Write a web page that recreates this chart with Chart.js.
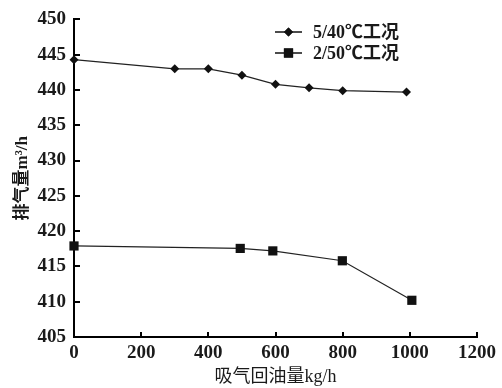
<!DOCTYPE html>
<html>
<head>
<meta charset="utf-8">
<script src="https://cdn.jsdelivr.net/npm/chart.js@4/dist/chart.umd.min.js"></script>
<style>
  html, body { margin: 0; padding: 0; background: #fff; }
  #wrap { width: 502px; height: 388px; }
</style>
</head>
<body>
<div id="wrap"><canvas id="oilChart"></canvas></div>
<script>
// data
const seriesNames = ['5/40℃工况', '2/50℃工况'];
const oilA = [0, 300, 400, 500, 600, 700, 800, 990];
const flowA = [444.3, 443.0, 443.0, 442.1, 440.8, 440.3, 439.9, 439.7];
const oilB = [0, 495, 592, 799, 1006];
const flowB = [417.9, 417.55, 417.2, 415.8, 410.2];
const xTicks = [0, 200, 400, 600, 800, 1000, 1200];
const yTicks = [405, 410, 415, 420, 425, 430, 435, 440, 445, 450];

const serif = "'Liberation Serif', 'Noto Sans CJK SC', serif";

function toPoints(xs, ys) {
  return xs.map((x, i) => ({ x: x, y: ys[i] }));
}

// ticks point inwards, so draw them by hand
const innerTicks = {
  id: 'innerTicks',
  afterDraw(chart) {
    const ctx = chart.ctx;
    const area = chart.chartArea;
    const xs = chart.scales.x;
    const ys = chart.scales.y;
    ctx.save();
    ctx.strokeStyle = '#000';
    ctx.lineWidth = 2;
    ctx.beginPath();
    xTicks.forEach(v => {
      const px = Math.round(xs.getPixelForValue(v));
      ctx.moveTo(px, area.bottom);
      ctx.lineTo(px, area.bottom - 5);
    });
    yTicks.forEach(v => {
      const py = Math.round(ys.getPixelForValue(v));
      ctx.moveTo(area.left, py);
      ctx.lineTo(area.left + 6, py);
    });
    ctx.stroke();
    ctx.restore();
  }
};

// legend sits inside the plot, top right
const insideLegend = {
  id: 'insideLegend',
  afterDraw(chart) {
    const ctx = chart.ctx;
    const styles = [
      { style: 'rectRot', radius: 4.5, y: 32 },
      { style: 'rect', radius: 6.5, y: 53 }
    ];
    ctx.save();
    styles.forEach((s, i) => {
      ctx.strokeStyle = '#111';
      ctx.lineWidth = 1.5;
      ctx.beginPath();
      ctx.moveTo(275, s.y);
      ctx.lineTo(302, s.y);
      ctx.stroke();
      ctx.fillStyle = '#111';
      Chart.helpers.drawPoint(ctx, { pointStyle: s.style, radius: s.radius, borderWidth: 0 }, 288.5, s.y);
      ctx.fill();
      ctx.fillStyle = '#1a1a1a';
      ctx.font = 'bold 18px ' + serif;
      ctx.textBaseline = 'middle';
      ctx.fillText(seriesNames[i], 313, s.y + 1);
    });
    ctx.restore();
  }
};

new Chart(document.getElementById('oilChart'), {
  type: 'scatter',
  data: {
    datasets: [{
      label: seriesNames[0],
      data: toPoints(oilA, flowA),
      showLine: true,
      borderColor: '#222',
      borderWidth: 1.2,
      backgroundColor: '#111',
      pointStyle: 'rectRot',
      pointRadius: 4.5,
      pointBorderWidth: 0,
      clip: false
    }, {
      label: seriesNames[1],
      data: toPoints(oilB, flowB),
      showLine: true,
      borderColor: '#222',
      borderWidth: 1.2,
      backgroundColor: '#111',
      pointStyle: 'rect',
      pointRadius: 6.5,
      pointBorderWidth: 0,
      clip: false
    }]
  },
  options: {
    responsive: true,
    maintainAspectRatio: false,
    animation: false,
    layout: { padding: { top: 17, right: 25, left: 12, bottom: 0 } },
    plugins: {
      legend: { display: false },
      tooltip: { enabled: false }
    },
    scales: {
      x: {
        type: 'linear',
        min: 0,
        max: 1200,
        afterBuildTicks: axis => { axis.ticks = xTicks.map(v => ({ value: v })); },
        afterFit: axis => { axis.height = 51; },
        grid: { display: true, drawOnChartArea: false, drawTicks: false },
        border: { color: '#000', width: 2 },
        ticks: {
          color: '#1a1a1a',
          padding: 5,
          maxRotation: 0,
          callback: v => String(v),
          font: { family: serif, size: 19, weight: 'bold' }
        },
        title: {
          display: true,
          text: '吸气回油量kg/h',
          color: '#1a1a1a',
          padding: { top: 0, bottom: 0 },
          font: { family: serif, size: 18 }
        }
      },
      y: {
        min: 405,
        max: 450,
        afterBuildTicks: axis => { axis.ticks = yTicks.map(v => ({ value: v })); },
        afterFit: axis => { axis.width = 62; },
        grid: { display: true, drawOnChartArea: false, drawTicks: false },
        border: { color: '#000', width: 2 },
        ticks: {
          color: '#1a1a1a',
          padding: 8,
          font: { family: serif, size: 19, weight: 'bold' }
        },
        title: {
          display: true,
          text: '排气量m³/h',
          color: '#1a1a1a',
          padding: { top: 0, bottom: 0 },
          font: { family: serif, size: 17, weight: 'bold' }
        }
      }
    }
  },
  plugins: [innerTicks, insideLegend]
});
</script>
</body>
</html>
